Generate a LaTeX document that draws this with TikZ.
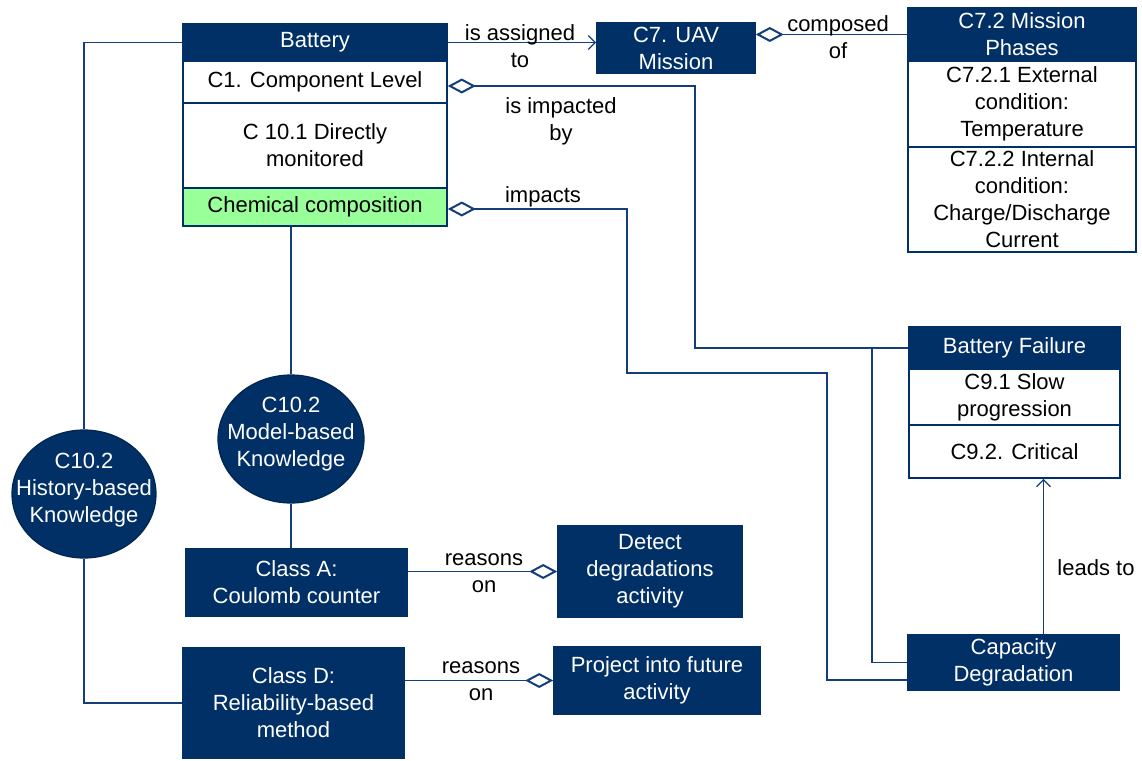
\documentclass[tikz,border=0pt]{standalone}
\usepackage{fontspec}
\setmainfont{Liberation Sans}
\usetikzlibrary{arrows.meta,shapes.geometric,calc}
\definecolor{navy}{RGB}{0,48,102}
\definecolor{navyline}{RGB}{20,62,122}
\definecolor{chemgreen}{RGB}{153,255,153}
\tikzset{
  base/.style={inner sep=0pt, align=center, font=\fontsize{22}{27}\selectfont},
  navybox/.style={base, rectangle, draw=navy, fill=navy, line width=1.6pt, text=white},
  whitebox/.style={base, rectangle, draw=navy, fill=white, line width=1.6pt, text=black},
  greenbox/.style={base, rectangle, draw=navy, fill=chemgreen, line width=1.6pt, text=black},
  navyell/.style={ellipse, inner sep=0pt, draw=navy!80!black, fill=navy, line width=1.2pt},
  elltext/.style={base, text=white},
  conn/.style={draw=navyline, line width=1.3pt},
  dia/.style={conn, {Diamond[open, length=28pt, width=15pt, line width=2pt]}-},
  diaend/.style={conn, -{Diamond[open, length=28pt, width=15pt, line width=2pt]}},
  barb/.style={conn, -{Straight Barb[length=7pt, width=14pt, line width=1.3pt]}},
  lbl/.style={base, text=black, inner sep=0pt}
}
\begin{document}
\begin{tikzpicture}[x=1pt, y=-1pt]
\useasboundingbox[fill=white] (0,0) rectangle (1142,760);

% Battery
\node[navybox, minimum width=264, minimum height=37] (battitle) at (315,42.5) {Battery};
\node[whitebox, minimum width=264, minimum height=42] (c1) at (315,82) {C1. Component Level};
\node[whitebox, minimum width=264, minimum height=85] (c101) at (315,145.5) {C 10.1 Directly\\monitored};
\node[greenbox, minimum width=264, minimum height=38] (chem) at (315,207) {Chemical composition};

% UAV mission
\node[navybox, minimum width=158, minimum height=50] (uav) at (676,48) {C7. UAV\\Mission};

% Mission phases
\node[navybox, minimum width=228, minimum height=53] (mptitle) at (1022,34.5) {C7.2 Mission\\Phases};
\node[whitebox, minimum width=228, minimum height=86] (mp1) at (1022,104) {C7.2.1 External\\condition:\\Temperature};
\node[whitebox, minimum width=228, minimum height=105] (mp2) at (1022,199.5) {C7.2.2 Internal\\condition:\\Charge/Discharge\\Current};

% Battery failure
\node[navybox, minimum width=211, minimum height=42] (bftitle) at (1014.5,348) {Battery Failure};
\node[whitebox, minimum width=211, minimum height=56] (bf1) at (1014.5,397) {C9.1 Slow\\progression};
\node[whitebox, minimum width=211, minimum height=53] (bf2) at (1014.5,451.5) {C9.2. Critical};

% Capacity degradation
\node[navybox, minimum width=211, minimum height=55] (cap) at (1013.5,662.5) {Capacity\\Degradation};

% Ellipses
\node[navyell, minimum width=146, minimum height=128] (model) at (291,439) {};
\node[elltext] (modeltxt) at (291,434) {C10.2\\Model-based\\Knowledge};
\node[navyell, minimum width=144, minimum height=128] (hist) at (84,494) {};
\node[elltext] (histtxt) at (84,490) {C10.2\\History-based\\Knowledge};

% Classes
\node[navybox, minimum width=221, minimum height=67] (classA) at (296.5,582.5) {Class A:\\Coulomb counter};
\node[navybox, minimum width=221, minimum height=110] (classD) at (293.5,703) {Class D:\\Reliability-based\\method};
\node[navybox, minimum width=184, minimum height=91] (detect) at (650,571.5) {Detect\\degradations\\activity};
\node[navybox, minimum width=206, minimum height=67] (project) at (657,680.5) {Project into future\\activity};

% junction coordinates
\coordinate (j1) at (695,86);
\coordinate (j2) at (872,348);
\coordinate (j3) at (627,209);
\coordinate (j4) at (827,373);

% connectors
\draw[conn] (battitle.west) -| (hist.north);
\draw[conn] (hist.south) |- (classD.west);
\draw[conn] (model.north |- chem.south) -- (model.north);
\draw[conn] (model.south) -- (model.south |- classA.north);
\draw[diaend] (classA.east |- detect.west) -- (detect.west);
\draw[diaend] (classD.east |- project.west) -- (project.west);
\draw[barb] (battitle.east) -- (battitle.east -| uav.west);
\draw[dia] (uav.east |- mptitle.west) -- (mptitle.west);
\draw[dia] ([yshift=-4pt]c1.east) -- (j1) |- (bftitle.west);
\draw[conn] (j2) |- (cap.west);
\draw[dia] ([yshift=-2pt]chem.east) -- (j3) |- (j4) |- ([yshift=-17.5pt]cap.west);
\draw[barb] ([xshift=30pt]cap.north) -- ([xshift=30pt]cap.north |- bf2.south);

% labels
\node[lbl] (l1) at (520,46) {is assigned\\to};
\node[lbl] (l2) at (838,37) {composed\\of};
\node[lbl] (l3) at (561,121) {is impacted\\by};
\node[lbl] (l4) at (543,197) {impacts};
\node[lbl] (l5) at (484,573) {reasons\\on};
\node[lbl] (l6) at (481,681) {reasons\\on};
\node[lbl] (l7) at (1096,568) {leads to};
\end{tikzpicture}
\end{document}
